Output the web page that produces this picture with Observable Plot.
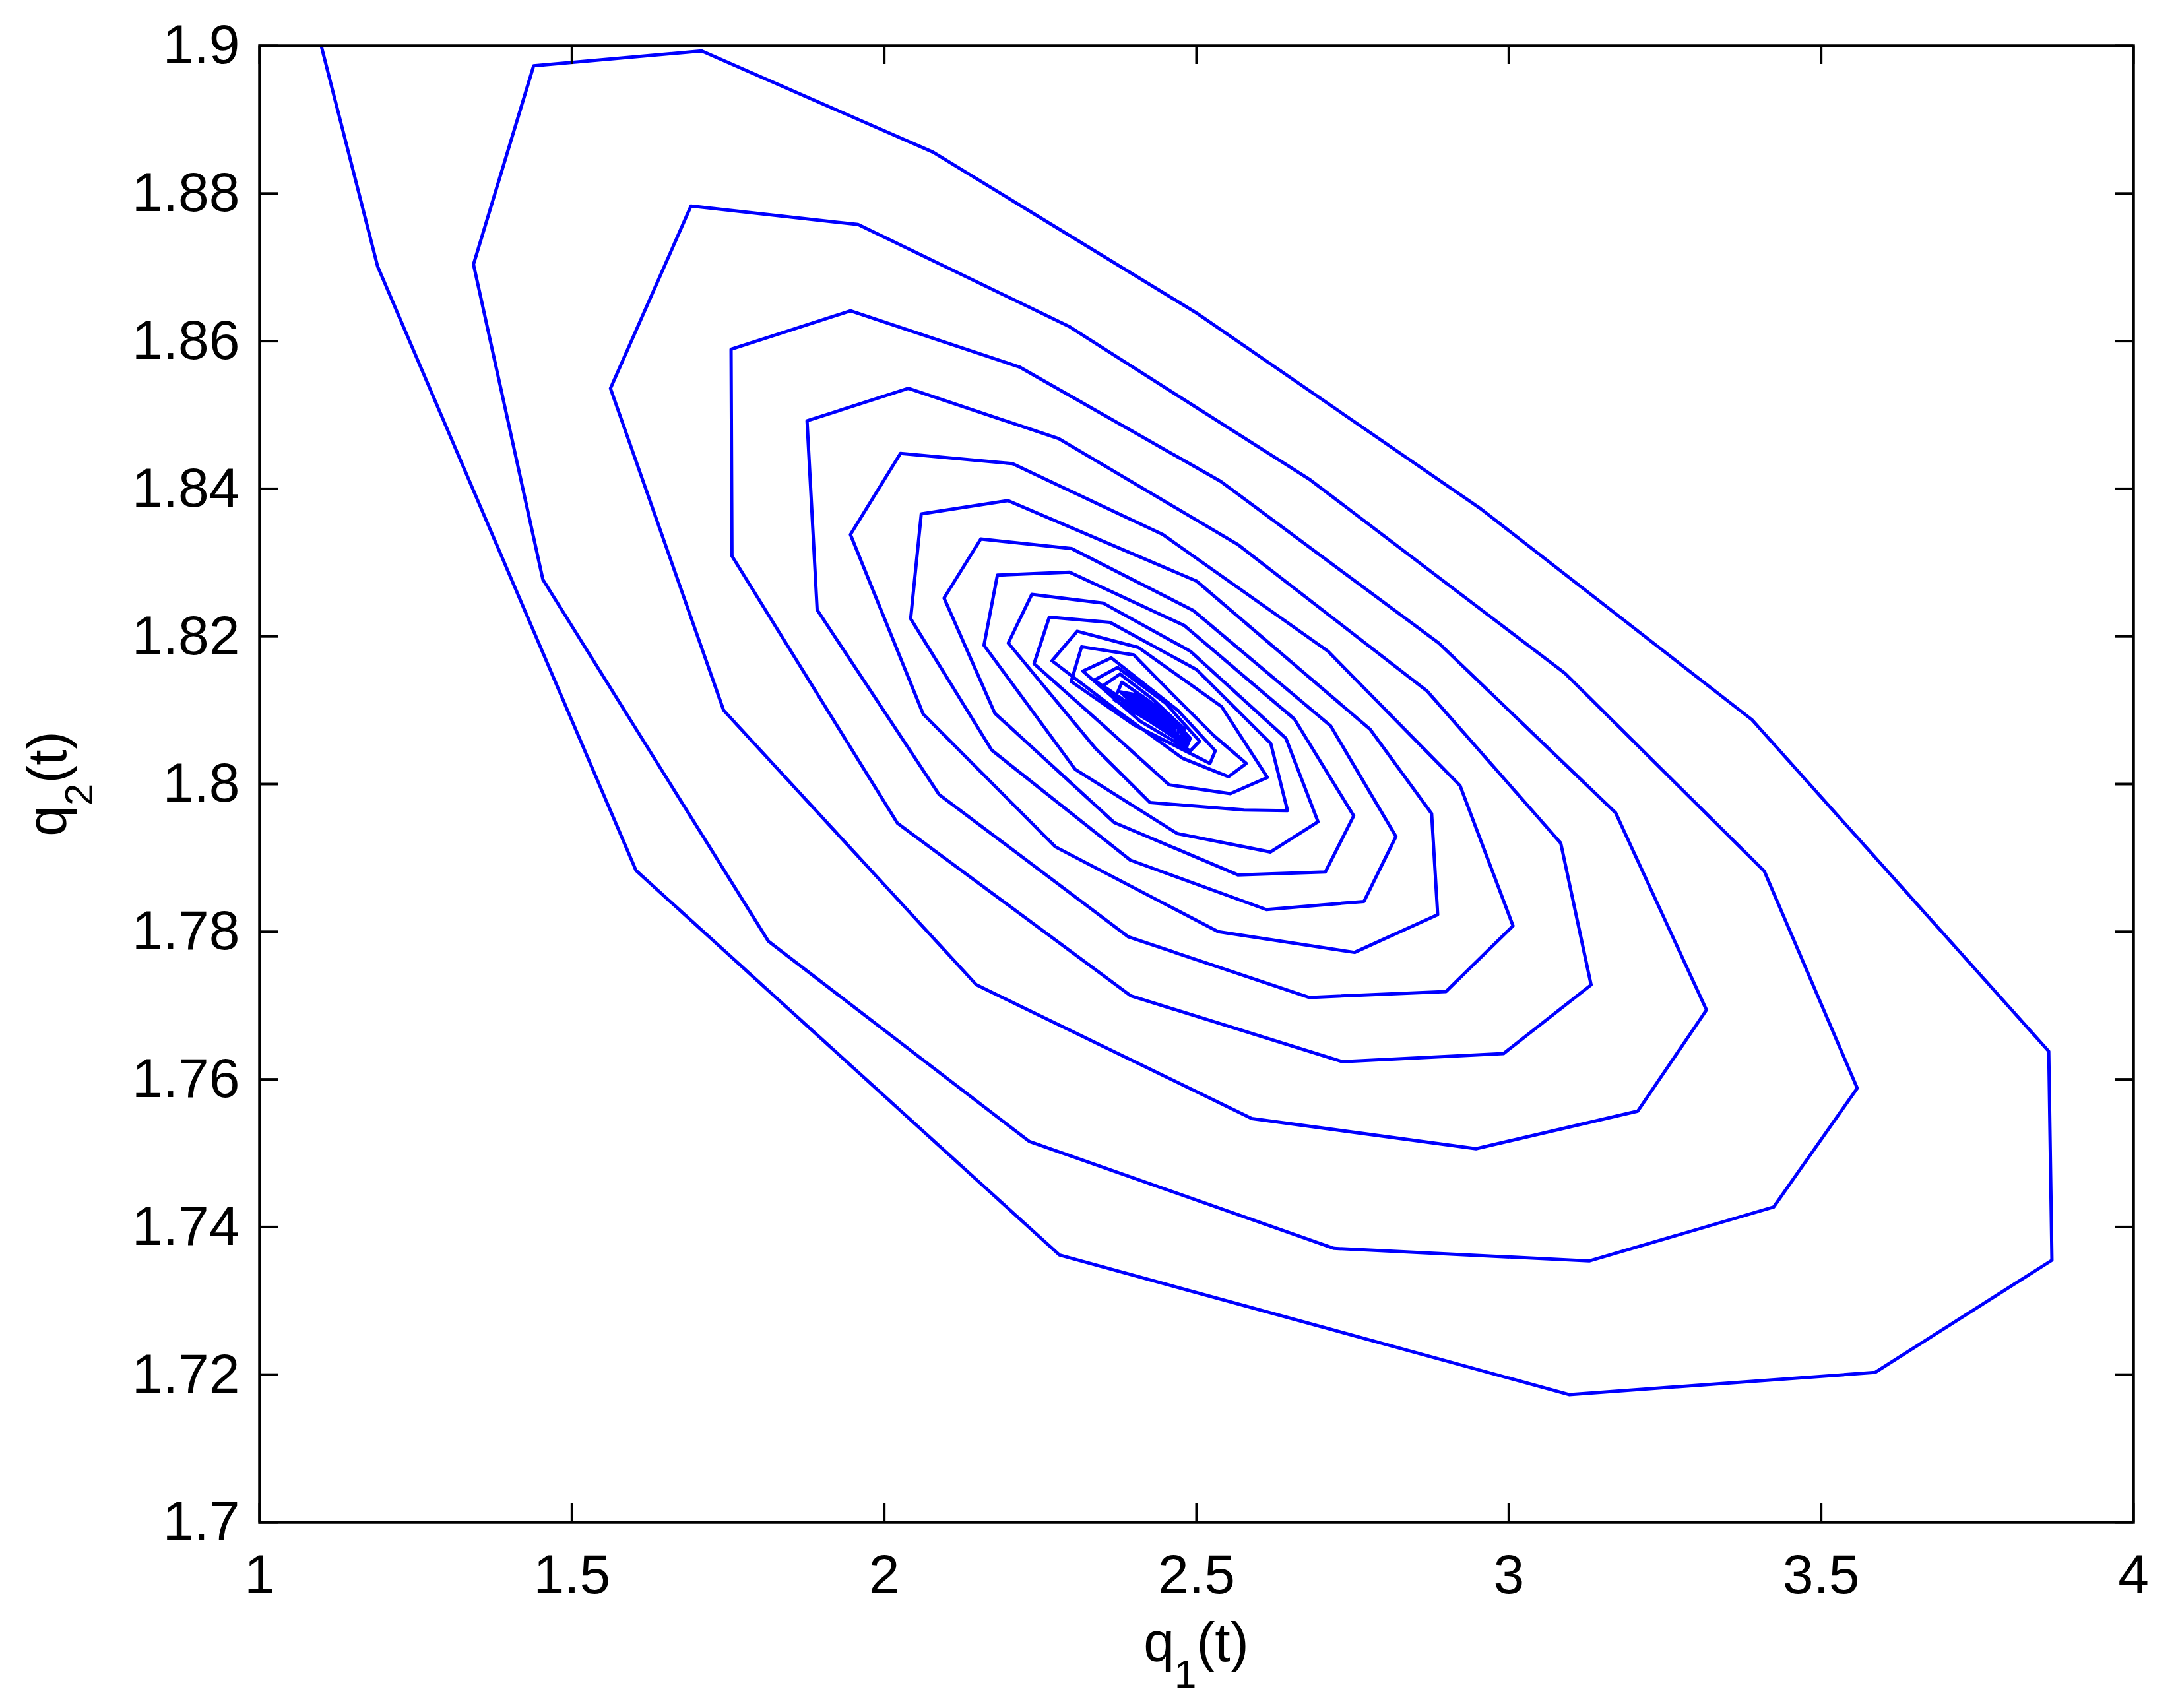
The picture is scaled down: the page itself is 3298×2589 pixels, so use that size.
<!DOCTYPE html>
<html>
<head>
<meta charset="utf-8">
<script src="https://cdn.jsdelivr.net/npm/d3@7"></script>
<script src="https://cdn.jsdelivr.net/npm/@observablehq/plot@0.6"></script>
<style>
  html, body { margin: 0; padding: 0; background: #ffffff; }
  #chart svg { display: block; }
</style>
</head>
<body>
<div id="chart"></div>
<script>
// Trajectory samples (q1 horizontal, q2 vertical)
const q1 = [
  1.0986, 1.1890, 1.6026, 2.2806, 3.0964, 3.5864, 3.8695, 3.8644, 3.3894, 2.9549, 2.5003, 2.0781, 1.7077, 1.4387, 1.3424,
  1.4535, 1.8146, 2.2320, 2.7202, 3.1287, 3.4239, 3.5578, 3.4090, 3.0900, 2.6821, 2.2957, 1.9581, 1.6906, 1.5617,
  1.7428, 2.1476, 2.5884, 2.9474, 3.2065, 3.3164, 3.1710, 2.8878, 2.5388, 2.2165, 1.9460, 1.7548, 1.7562,
  2.0211, 2.3952, 2.7336, 2.9916, 3.1317, 3.0831, 2.8691, 2.5670, 2.2794, 2.0386, 1.8764, 1.8926,
  2.0877, 2.3910, 2.6803, 2.8994, 3.0067, 2.9218, 2.7103, 2.4461, 2.2053, 2.0260, 1.9459, 2.0623,
  2.2740, 2.5347, 2.7530, 2.8861, 2.8764, 2.7781, 2.5000, 2.1980, 2.0593, 2.0423, 2.1720,
  2.3940, 2.6118, 2.7681, 2.8193, 2.7145, 2.4949, 2.3000, 2.1546, 2.0958, 2.1770,
  2.3680, 2.5662, 2.7063, 2.7516, 2.6567, 2.4800, 2.2966, 2.1812, 2.1597,
  2.3057, 2.4690, 2.6184, 2.6945, 2.6431, 2.4900, 2.3509, 2.2363, 2.1986,
  2.3386, 2.4255, 2.5759, 2.6457, 2.6188, 2.5000, 2.3617, 2.2642, 2.2399,
  2.3500, 2.4560, 2.5542, 2.6134, 2.5400, 2.4071, 2.3089, 2.2686,
  2.3800, 2.4775, 2.5514, 2.5796, 2.5285, 2.4400, 2.3996, 2.3160, 2.2993,
  2.4000, 2.5215, 2.5300, 2.4700, 2.3634, 2.3181,
  2.4100, 2.4900, 2.5050, 2.4500, 2.3736, 2.3366,
  2.4200, 2.4850, 2.4800, 2.4300, 2.3775, 2.3502,
  2.4250, 2.4800, 2.4700, 2.4200, 2.3806, 2.3683,
  2.4250, 2.4850, 2.4900, 2.4600, 2.4100, 2.3780,
  2.4200, 2.4800, 2.4830, 2.4550, 2.4120, 2.3850,
  2.4250, 2.4750, 2.4770, 2.4500, 2.4150, 2.3920,
  2.4280, 2.4700, 2.4710, 2.4460, 2.4180, 2.3990,
  2.4300, 2.4650, 2.4650, 2.4430, 2.4200, 2.4050,
  2.4320, 2.4600, 2.4600, 2.4410, 2.4220, 2.4110,
  2.4340, 2.4560, 2.4560, 2.4400, 2.4250, 2.4160,
  2.4350, 2.4520, 2.4520, 2.4390, 2.4270, 2.4210,
  2.4360, 2.4480, 2.4480, 2.4380, 2.4300, 2.4260,
  2.4370, 2.4440, 2.4420, 2.4360
];
const q2 = [
  1.9000, 1.8701, 1.7883, 1.7362, 1.7173, 1.7203, 1.7355, 1.7638, 1.8087, 1.8373, 1.8638, 1.8856, 1.8993, 1.8973, 1.8704,
  1.8277, 1.7787, 1.7516, 1.7371, 1.7354, 1.7427, 1.7588, 1.7882, 1.8150, 1.8412, 1.8620, 1.8758, 1.8783, 1.8536,
  1.8100, 1.7728, 1.7547, 1.7506, 1.7557, 1.7694, 1.7961, 1.8191, 1.8410, 1.8565, 1.8641, 1.8589, 1.8309,
  1.7947, 1.7713, 1.7624, 1.7635, 1.7728, 1.7920, 1.8126, 1.8324, 1.8468, 1.8536, 1.8492, 1.8236,
  1.7986, 1.7793, 1.7711, 1.7719, 1.7808, 1.7998, 1.8180, 1.8338, 1.8434, 1.8448, 1.8338, 1.8095,
  1.7915, 1.7800, 1.7772, 1.7823, 1.7960, 1.8074, 1.8275, 1.8384, 1.8366, 1.8224, 1.8046,
  1.7897, 1.7830, 1.7841, 1.7929, 1.8079, 1.8235, 1.8319, 1.8332, 1.8252, 1.8096,
  1.7948, 1.7877, 1.7881, 1.7957, 1.8088, 1.8215, 1.8287, 1.8283, 1.8188,
  1.8020, 1.7933, 1.7908, 1.7949, 1.8062, 1.8180, 1.8245, 1.8257, 1.8191,
  1.8048, 1.7975, 1.7965, 1.7964, 1.8055, 1.8155, 1.8219, 1.8226, 1.8163,
  1.8080, 1.7999, 1.7987, 1.8009, 1.8105, 1.8185, 1.8207, 1.8167,
  1.8095, 1.8035, 1.8010, 1.8028, 1.8065, 1.8140, 1.8175, 1.8186, 1.8139,
  1.8080, 1.8028, 1.8045, 1.8100, 1.8171, 1.8153,
  1.8085, 1.8045, 1.8058, 1.8110, 1.8158, 1.8141,
  1.8088, 1.8055, 1.8075, 1.8115, 1.8149, 1.8133,
  1.8090, 1.8060, 1.8082, 1.8115, 1.8138, 1.8114,
  1.8085, 1.8052, 1.8062, 1.8090, 1.8120, 1.8125,
  1.8092, 1.8058, 1.8068, 1.8092, 1.8117, 1.8120,
  1.8092, 1.8062, 1.8072, 1.8094, 1.8114, 1.8116,
  1.8093, 1.8066, 1.8075, 1.8095, 1.8111, 1.8112,
  1.8093, 1.8070, 1.8078, 1.8095, 1.8108, 1.8108,
  1.8093, 1.8073, 1.8081, 1.8095, 1.8105, 1.8105,
  1.8093, 1.8076, 1.8083, 1.8095, 1.8102, 1.8102,
  1.8093, 1.8079, 1.8086, 1.8095, 1.8100, 1.8100,
  1.8093, 1.8082, 1.8088, 1.8094, 1.8098, 1.8098,
  1.8093, 1.8086, 1.8090, 1.8094
];

const xTicks = [1, 1.5, 2, 2.5, 3, 3.5, 4];
const xTickLabels = ["1", "1.5", "2", "2.5", "3", "3.5", "4"];
const yTicks = [1.7, 1.72, 1.74, 1.76, 1.78, 1.8, 1.82, 1.84, 1.86, 1.88, 1.9];
const yTickLabels = ["1.7", "1.72", "1.74", "1.76", "1.78", "1.8", "1.82", "1.84", "1.86", "1.88", "1.9"];
const xDomain = [1, 4];
const yDomain = [1.7, 1.9];
const xLabelParts = ["q", "1", "(t)"];
const yLabelParts = ["q", "2", "(t)"];

// Layout
const W = 3298, H = 2589;
const mL = 393, mR = 65, mT = 69, mB = 282;
const pw = W - mL - mR, ph = H - mT - mB;
const tickLen = 28;
const font = "'Liberation Sans', Arial, Helvetica, sans-serif";

const data = q1.map((x, i) => ({x, y: q2[i]}));

const chart = Plot.plot({
  width: W,
  height: H,
  marginLeft: mL,
  marginRight: mR,
  marginTop: mT,
  marginBottom: mB,
  style: {fontFamily: font, fontSize: "84px", background: "#ffffff", color: "#000000"},
  x: {domain: xDomain},
  y: {domain: yDomain},
  marks: [
    Plot.line(data, {x: "x", y: "y", stroke: "#0000ff", strokeWidth: 5, clip: true}),
    Plot.tickX(xTicks, {x: d => d, insetTop: ph - tickLen, stroke: "#000", strokeWidth: 4}),
    Plot.tickX(xTicks, {x: d => d, insetBottom: ph - tickLen, stroke: "#000", strokeWidth: 4}),
    Plot.tickY(yTicks, {y: d => d, insetRight: pw - tickLen, stroke: "#000", strokeWidth: 4}),
    Plot.tickY(yTicks, {y: d => d, insetLeft: pw - tickLen, stroke: "#000", strokeWidth: 4}),
    Plot.frame({stroke: "#000", strokeWidth: 4.5}),
    Plot.axisX(xTicks, {anchor: "bottom", tickSize: 0, tickPadding: 48, label: null,
      tickFormat: d => xTickLabels[xTicks.indexOf(d)]}),
    Plot.axisY(yTicks, {anchor: "left", tickSize: 0, tickPadding: 30, label: null,
      tickFormat: d => yTickLabels[yTicks.indexOf(d)]})
  ]
});

document.getElementById("chart").appendChild(chart);

// Axis titles with subscripts
const svg = d3.select(chart);
function addLabel(g, parts) {
  g.append("tspan").text(parts[0]);
  g.append("tspan").attr("dy", 40).style("font-size", "60px").text(parts[1]);
  g.append("tspan").attr("dy", -40).text(parts[2]);
}
svg.append("text")
  .attr("x", mL + pw / 2)
  .attr("y", 2518)
  .attr("text-anchor", "middle")
  .style("font-family", font)
  .style("font-size", "84px")
  .attr("fill", "#000")
  .call(addLabel, xLabelParts);

svg.append("text")
  .attr("transform", `translate(100, ${mT + ph / 2}) rotate(-90)`)
  .attr("text-anchor", "middle")
  .style("font-family", font)
  .style("font-size", "84px")
  .attr("fill", "#000")
  .call(addLabel, yLabelParts);
</script>
</body>
</html>
